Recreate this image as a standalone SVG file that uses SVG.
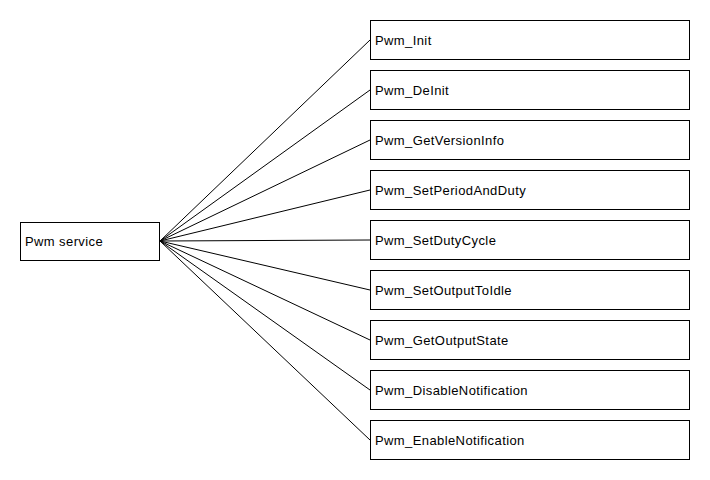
<svg xmlns="http://www.w3.org/2000/svg" width="710" height="480" viewBox="0 0 710 480">
<style>
rect{fill:#fff;stroke:#000;stroke-width:1}
text{font-family:"Liberation Sans",Arial,sans-serif;font-size:13px;letter-spacing:0.4px;fill:#000}
#connectors line{stroke:#000;stroke-width:1}
</style>
<rect x="0" y="0" width="710" height="480" style="stroke:none"/>
<g id="connectors">
<line x1="160" y1="241" x2="370" y2="40"/>
<line x1="160" y1="241" x2="370" y2="90"/>
<line x1="160" y1="241" x2="370" y2="140"/>
<line x1="160" y1="241" x2="370" y2="190"/>
<line x1="160" y1="241" x2="370" y2="240"/>
<line x1="160" y1="241" x2="370" y2="290"/>
<line x1="160" y1="241" x2="370" y2="340"/>
<line x1="160" y1="241" x2="370" y2="390"/>
<line x1="160" y1="241" x2="370" y2="440"/>
</g>
<g id="pwm_service"><rect x="20.5" y="222.5" width="139" height="38"/><text x="25" y="245.5">Pwm service</text></g>
<g id="n1"><rect x="370.5" y="20.5" width="319" height="39"/><text x="375" y="45">Pwm_Init</text></g>
<g id="n2"><rect x="370.5" y="70.5" width="319" height="39"/><text x="375" y="95">Pwm_DeInit</text></g>
<g id="n3"><rect x="370.5" y="120.5" width="319" height="39"/><text x="375" y="145">Pwm_GetVersionInfo</text></g>
<g id="n4"><rect x="370.5" y="170.5" width="319" height="39"/><text x="375" y="195">Pwm_SetPeriodAndDuty</text></g>
<g id="n5"><rect x="370.5" y="220.5" width="319" height="39"/><text x="375" y="245">Pwm_SetDutyCycle</text></g>
<g id="n6"><rect x="370.5" y="270.5" width="319" height="39"/><text x="375" y="295">Pwm_SetOutputToIdle</text></g>
<g id="n7"><rect x="370.5" y="320.5" width="319" height="39"/><text x="375" y="345">Pwm_GetOutputState</text></g>
<g id="n8"><rect x="370.5" y="370.5" width="319" height="39"/><text x="375" y="395">Pwm_DisableNotification</text></g>
<g id="n9"><rect x="370.5" y="420.5" width="319" height="39"/><text x="375" y="445">Pwm_EnableNotification</text></g>
</svg>
